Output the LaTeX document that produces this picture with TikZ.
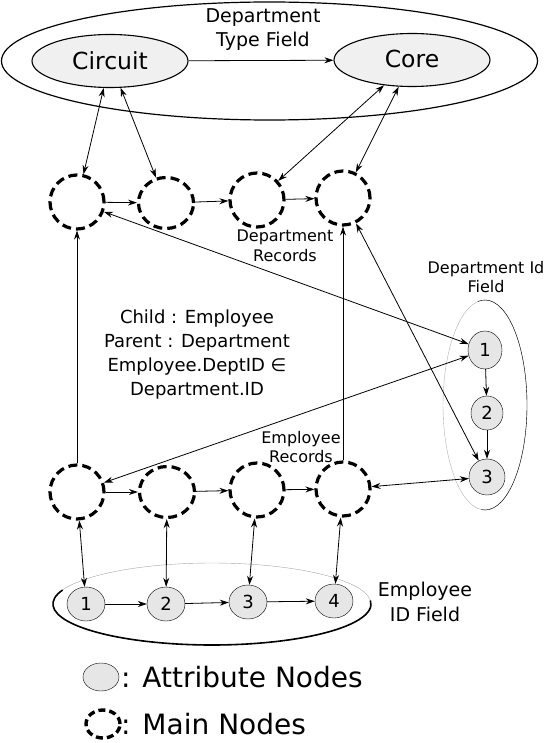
\documentclass[tikz,border=0pt]{standalone}
\usepackage{fontspec}
\setmainfont{DejaVu Sans}
\usetikzlibrary{arrows.meta,positioning,shapes.geometric}

\begin{document}
\begin{tikzpicture}[x=1pt,y=1pt,
    mainnode/.style = {ellipse, draw, line width=3.2pt, dash pattern=on 9pt off 5pt,
      minimum width=54, minimum height=54, inner sep=0pt},
    attrnode/.style = {ellipse, draw, thin, fill=attrgray, minimum width=36, minimum height=36,
      inner sep=0pt, font=\fontsize{18}{20}\selectfont},
    typenode/.style = {ellipse, draw, line width=1.1pt, fill=typegray, minimum width=156,
      minimum height=53, font=\fontsize{23.5}{26}\selectfont},
    smalltext/.style = {align=center, font=\fontsize{16}{19.5}\selectfont},
    midtext/.style = {align=center, font=\fontsize{19}{24.5}\selectfont},
    link/.style = {line width=0.8pt, -{Stealth[length=9pt,width=6pt]}},
    dlink/.style = {line width=0.8pt, {Stealth[length=9pt,width=6pt]}-{Stealth[length=9pt,width=6pt]}} ]
  \definecolor{attrgray}{HTML}{E6E6E6}
  \definecolor{typegray}{HTML}{F0F0F0}
  \useasboundingbox (0,0) rectangle (545,-743);

  % department type field
  \draw [line width=1.2pt] (269.5,-61) ellipse (268 and 59);
  \node [typenode] (circuit) at (110,-61) {Circuit};
  \node [typenode] (core) at (412,-60) {\raisebox{2pt}{Core}};
  \node [midtext] (typefield) at (263,-29.5) {Department\\Type Field};
  \draw [link] (circuit) -- (core);

  % department records
  \node [mainnode] (dmain1) at (77,-202) {};
  \node [mainnode, minimum width=55, minimum height=51] (dmain2) at (166,-203) {};
  \node [mainnode] (dmain3) at (257,-200) {};
  \node [mainnode] (dmain4) at (343,-198) {};
  \node [smalltext] (drecords) at (285,-246) {Department\\Records};
  \foreach \a/\b in {1/2,2/3,3/4} \draw [link] (dmain\a) -- (dmain\b);

  % employee records
  \node [mainnode] (emain1) at (77,-492) {};
  \node [mainnode, minimum width=55, minimum height=51] (emain2) at (167,-492) {};
  \node [mainnode] (emain3) at (257,-490) {};
  \node [mainnode] (emain4) at (343,-489) {};
  \node [smalltext] (erecords) at (301,-447) {Employee\\Records};
  \foreach \a/\b in {1/2,2/3,3/4} \draw [link] (emain\a) -- (emain\b);

  % department id field
  \draw [gray!60, thin] (485,-405) ellipse (42 and 105);
  \draw [thin] (485,-405) ++(-95:42 and 105) arc [start angle=-95, end angle=100, x radius=42, y radius=105];
  \node [smalltext] (didfield) at (486,-277) {Department Id\\Field};
  \node [attrnode, minimum width=34, minimum height=38] (did1) at (485,-350) {1};
  \node [attrnode, minimum width=32, minimum height=34] (did2) at (487,-413) {2};
  \node [attrnode] (did3) at (487,-477) {3};
  \draw [link] (did1) -- (did2);
  \draw [link] (did2) -- (did3);

  % employee id field
  \draw [gray!70, thin] (212,-604) ellipse (159 and 41);
  \draw [line width=1.6pt] (212,-604) ++(160:159 and 41) arc [start angle=160, end angle=365, x radius=159, y radius=41];
  \node [midtext] (eidfield) at (425,-602) {Employee\\ID Field};
  \node [attrnode, minimum width=38, minimum height=34] (eid1) at (86,-604) {1};
  \node [attrnode, minimum width=38, minimum height=34] (eid2) at (166,-604) {2};
  \node [attrnode, minimum width=38, minimum height=34] (eid3) at (248,-602) {3};
  \node [attrnode, minimum width=38, minimum height=34] (eid4) at (334,-601) {4};
  \foreach \a/\b in {1/2,2/3,3/4} \draw [link] (eid\a) -- (eid\b);

  % relation text
  \node [align=center, font=\fontsize{18}{24}\selectfont] (relation) at (197,-355)
    {Child : Employee\\Parent : Department\\Employee.DeptID ∈\\Department.ID};

  % connectors
  \draw [dlink] (circuit) -- (dmain1);
  \draw [dlink] (circuit) -- (dmain2);
  \draw [dlink] (core) -- (dmain3);
  \draw [dlink] (core) -- (dmain4);
  \draw [link] (emain1) -- (dmain1);
  \draw [link] (emain4.north) -- (dmain4.south);
  \draw [dlink] (dmain1) -- (did1);
  \draw [dlink] (emain1) -- (did1);
  \draw [dlink] (dmain4) -- (did3);
  \draw [dlink] (emain4) -- (did3);
  \foreach \i in {1,...,4} \draw [dlink] (emain\i) -- (eid\i);

  % legend
  \node [attrnode, minimum width=36, minimum height=28] (legattr) at (101,-677) {};
  \node [anchor=west, inner sep=1pt, font=\fontsize{28}{30}\selectfont] (legattrtext) at (120,-677) {: Attribute Nodes};
  \node [mainnode, line width=3.4pt, dash pattern=on 7pt off 4pt, minimum width=34, minimum height=28] (legmain) at (103,-724) {};
  \node [anchor=west, inner sep=1pt, font=\fontsize{28}{30}\selectfont] (legmaintext) at (120,-724) {: Main Nodes};
\end{tikzpicture}
\end{document}
